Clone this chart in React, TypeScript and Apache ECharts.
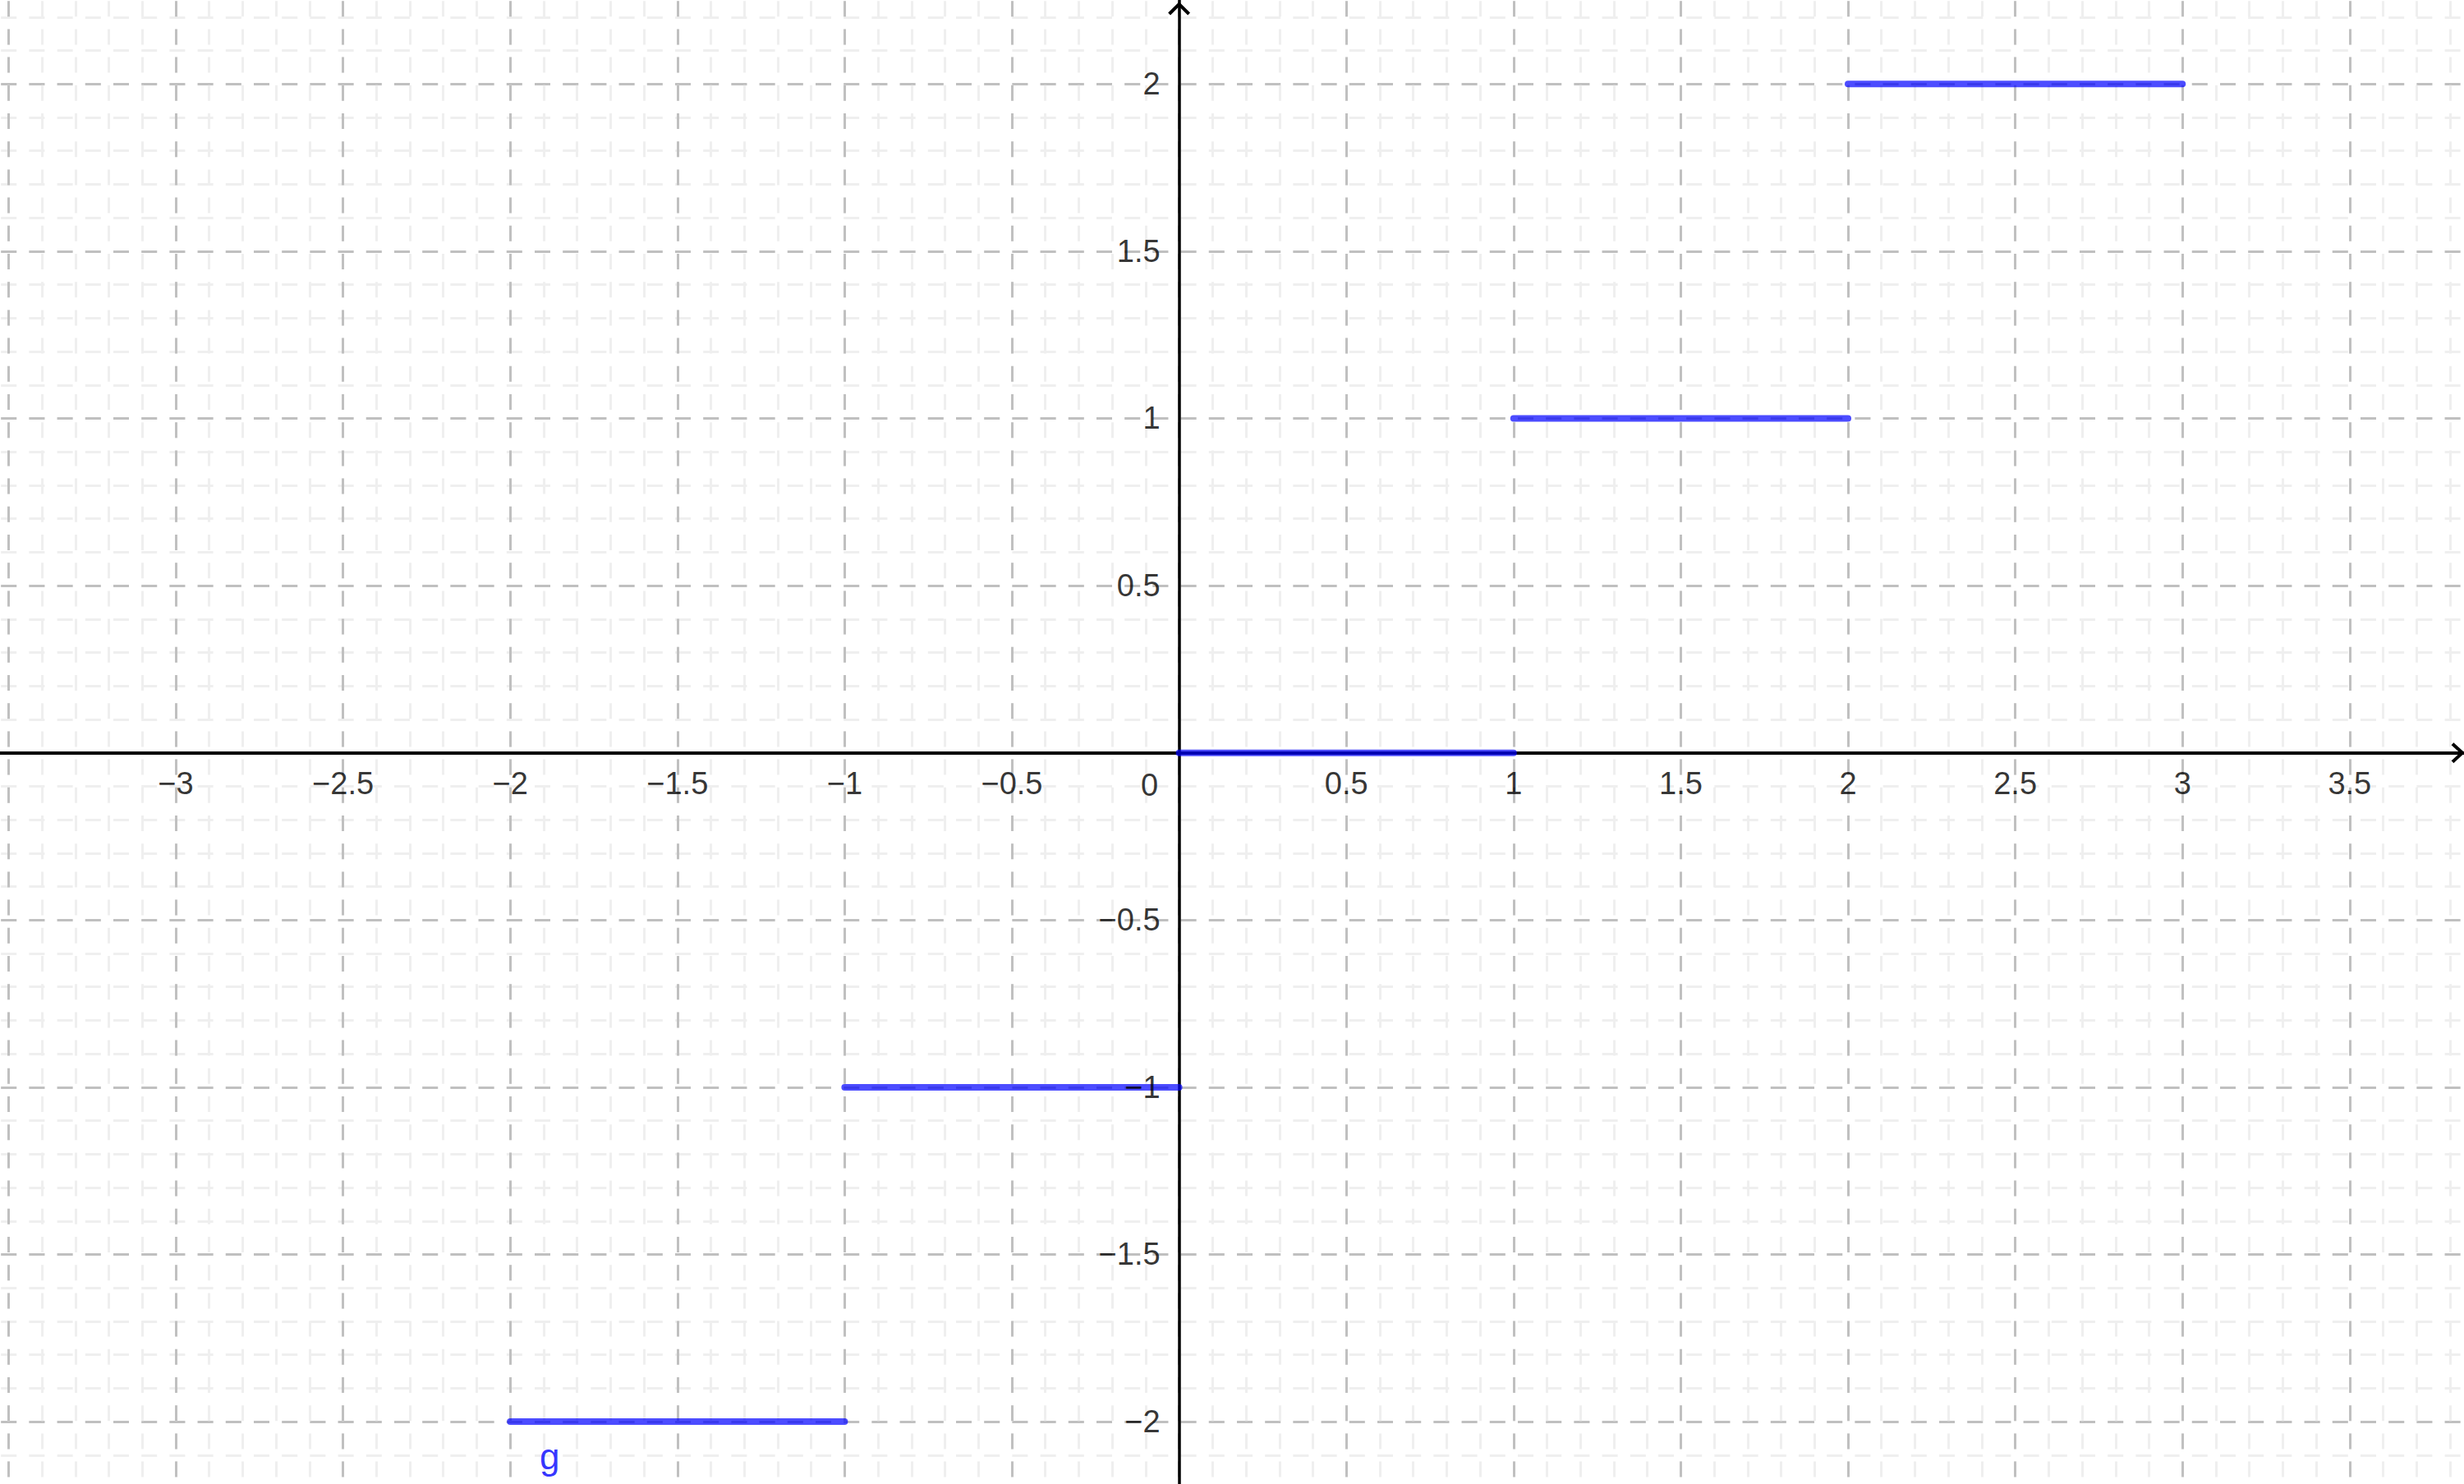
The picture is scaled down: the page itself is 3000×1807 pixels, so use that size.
import React, { useEffect, useRef } from 'react';
import * as echarts from 'echarts';

// Visible window of the plot (data units)
const X_RANGE = [-3.5255, 3.8418];
const Y_RANGE = [-2.1864, 2.2512];

// Tick labels
const X_TICK_VALUES = [-3, -2.5, -2, -1.5, -1, -0.5, 0.5, 1, 1.5, 2, 2.5, 3, 3.5];
const X_TICK_LABELS = ['−3', '−2.5', '−2', '−1.5', '−1', '−0.5', '0.5', '1', '1.5', '2', '2.5', '3', '3.5'];
const Y_TICK_VALUES = [-2, -1.5, -1, -0.5, 0.5, 1, 1.5, 2];
const Y_TICK_LABELS = ['−2', '−1.5', '−1', '−0.5', '0.5', '1', '1.5', '2'];
const ORIGIN_LABEL = '0';

// Step function g: value on each interval [start, end]
const STEP_STARTS = [-2, -1, 0, 1, 2];
const STEP_ENDS = [-1, 0, 1, 2, 3];
const STEP_VALUES = [-2, -1, 0, 1, 2];
const FUNCTION_NAME = 'g';

const FONT = "'Liberation Sans', Arial, sans-serif";
const DASH = [19, 15.2];
const DASH_OFFSET = 32.5;

export default function App() {
  const ref = useRef<HTMLDivElement>(null);

  useEffect(() => {
    document.body.style.margin = '0';
    document.body.style.overflow = 'hidden';
    if (!ref.current) return;
    const chart = echarts.init(ref.current, undefined, { renderer: 'svg' });

    const minorSplit = {
      show: true,
      showMinLine: false,
      showMaxLine: false,
      lineStyle: { color: '#efefef', width: 3, type: DASH, dashOffset: DASH_OFFSET },
    };
    const majorSplit = {
      show: true,
      showMinLine: false,
      showMaxLine: false,
      lineStyle: { color: '#c0c0c0', width: 3, type: DASH, dashOffset: DASH_OFFSET },
    };

    const stepSeries = STEP_STARTS.map((s, i) => ({
      type: 'line',
      xAxisIndex: 1,
      yAxisIndex: 1,
      data: [
        [s, STEP_VALUES[i]],
        [STEP_ENDS[i], STEP_VALUES[i]],
      ],
      symbol: 'none',
      silent: true,
      z: 5,
      lineStyle: { color: '#0000ff', width: 8, opacity: 0.7, cap: 'round' },
    }));

    const hiddenDot = {
      type: 'scatter',
      xAxisIndex: 1,
      yAxisIndex: 1,
      symbol: 'circle',
      symbolSize: 1,
      silent: true,
      z: 6,
      itemStyle: { color: 'transparent' },
    };

    chart.setOption({
      animation: false,
      backgroundColor: '#ffffff',
      grid: { left: 0, right: 0, top: 0, bottom: 0, containLabel: false, outerBoundsMode: 'none' },
      xAxis: [
        {
          type: 'value',
          position: 'bottom',
          min: X_RANGE[0],
          max: X_RANGE[1],
          minInterval: 0.1,
          maxInterval: 0.1,
          splitNumber: 74,
          axisLine: { show: false },
          axisTick: { show: false },
          axisLabel: { show: false },
          splitLine: minorSplit,
        },
        {
          type: 'value',
          position: 'bottom',
          min: X_RANGE[0],
          max: X_RANGE[1],
          minInterval: 0.5,
          maxInterval: 0.5,
          splitNumber: 15,
          axisLine: { show: true, onZero: true, lineStyle: { color: '#000', width: 4 } },
          axisTick: { show: false },
          axisLabel: { show: false },
          splitLine: majorSplit,
        },
      ],
      yAxis: [
        {
          type: 'value',
          position: 'left',
          min: Y_RANGE[0],
          max: Y_RANGE[1],
          minInterval: 0.1,
          maxInterval: 0.1,
          splitNumber: 44,
          axisLine: { show: false },
          axisTick: { show: false },
          axisLabel: { show: false },
          splitLine: minorSplit,
        },
        {
          type: 'value',
          position: 'left',
          min: Y_RANGE[0],
          max: Y_RANGE[1],
          minInterval: 0.5,
          maxInterval: 0.5,
          splitNumber: 9,
          axisLine: { show: true, onZero: true, lineStyle: { color: '#000', width: 3.5 } },
          axisTick: { show: false },
          axisLabel: { show: false },
          splitLine: majorSplit,
        },
      ],
      series: [
        ...stepSeries,
        {
          ...hiddenDot,
          data: X_TICK_VALUES.map((v, i) => ({ value: [v, 0], name: X_TICK_LABELS[i] })),
          label: {
            show: true,
            position: 'inside',
            formatter: (p: any) => p.name,
            offset: [0, 37],
            color: '#000',
            fontSize: 38,
            fontFamily: FONT,
          },
        },
        {
          ...hiddenDot,
          data: Y_TICK_VALUES.map((v, i) => ({ value: [0, v], name: Y_TICK_LABELS[i] })),
          label: {
            show: true,
            position: 'inside',
            align: 'right',
            formatter: (p: any) => p.name,
            offset: [-23, 0],
            color: '#000',
            fontSize: 38,
            fontFamily: FONT,
          },
        },
        {
          ...hiddenDot,
          data: [[0, 0]],
          label: {
            show: true,
            position: 'inside',
            formatter: ORIGIN_LABEL,
            offset: [-36, 39],
            color: '#000',
            fontSize: 38,
            fontFamily: FONT,
          },
        },
        {
          ...hiddenDot,
          data: [[STEP_STARTS[0], STEP_VALUES[0]]],
          label: {
            show: true,
            position: 'inside',
            formatter: FUNCTION_NAME,
            offset: [48, 42],
            color: '#0000ff',
            fontSize: 44,
            fontFamily: FONT,
          },
        },
      ],
    });

    const o = chart.convertToPixel({ gridIndex: 0 }, [0, 0]) as number[];
    const tr = chart.convertToPixel({ gridIndex: 0 }, [X_RANGE[1], Y_RANGE[1]]) as number[];
    const xt = tr[0] - 2;
    const yt = tr[1] + 5;
    chart.setOption({
      graphic: [
        {
          type: 'polyline',
          z: 10,
          shape: { points: [[xt - 12, o[1] - 11], [xt, o[1]], [xt - 12, o[1] + 11]] },
          style: { stroke: '#000', lineWidth: 4, fill: 'none' },
        },
        {
          type: 'polyline',
          z: 10,
          shape: { points: [[o[0] - 12, yt + 12], [o[0], yt], [o[0] + 12, yt + 12]] },
          style: { stroke: '#000', lineWidth: 4, fill: 'none' },
        },
      ],
    });

    return () => chart.dispose();
  }, []);

  return <div ref={ref} style={{ width: 3000, height: 1807 }} />;
}
